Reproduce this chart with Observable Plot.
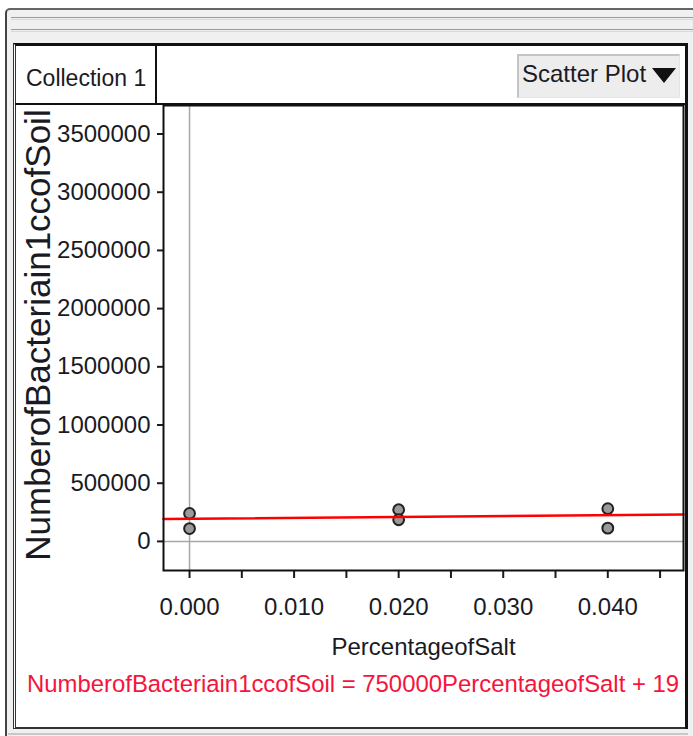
<!DOCTYPE html>
<html>
<head>
<meta charset="utf-8">
<script src="https://cdn.jsdelivr.net/npm/d3@7"></script>
<script src="https://cdn.jsdelivr.net/npm/@observablehq/plot@0.6"></script>
<style>
  html, body { margin: 0; padding: 0; background: #fff; }
  #wrap { position: relative; width: 693px; height: 736px; overflow: hidden; font-family: "Liberation Sans", Arial, sans-serif; }
  .abs { position: absolute; box-sizing: border-box; }
  #chart { position: absolute; left: 0; top: 0; z-index: 1; }
  .txt { white-space: nowrap; color: #1a1a24; }
</style>
</head>
<body>
<div id="wrap">
  <!-- window chrome -->
  <div class="abs" style="left:5px;top:8px;width:700px;height:730px;background:#f0f0f0;border-left:2px solid #444;border-top:2px solid #666;border-top-left-radius:5px;"></div>
  <div class="abs" style="left:11px;top:17px;width:690px;height:3px;border-top:1px solid #9a9a9a;border-bottom:1px solid #d8d8d8;"></div>
  <div class="abs" style="left:11px;top:29px;width:690px;height:3px;border-top:1px solid #9a9a9a;border-bottom:1px solid #d8d8d8;"></div>
  <div class="abs" style="left:8px;top:733px;width:690px;height:2px;background:#c8c8c8;"></div>
  <!-- panel -->
  <div class="abs" style="left:13px;top:43px;width:676px;height:686px;background:#fff;border-top:3px solid #111;border-left:3px double #333;border-bottom:2px solid #333;"></div>
  <!-- tab -->
  <div class="abs" style="left:15px;top:46px;width:142px;height:59px;border-right:2px solid #111;border-bottom:2px solid #111;"></div>
  <div class="abs" style="left:15px;top:103px;width:672px;height:2px;background:#111;"></div>
  <div class="abs txt" style="left:26px;top:67px;font-size:23px;line-height:23px;">Collection 1</div>
  <!-- button -->
  <div class="abs" style="left:517px;top:54px;width:163px;height:44px;background:#ededed;border-top:2px solid #c4c4c4;border-left:2px solid #c4c4c4;border-right:1px solid #e4e4e4;border-bottom:1px solid #e4e4e4;"></div>
  <div class="abs txt" style="left:522px;top:62px;font-size:24px;line-height:24px;">Scatter Plot</div>
  <div class="abs" style="left:652px;top:68px;width:0;height:0;border-left:12px solid transparent;border-right:12px solid transparent;border-top:15px solid #111;"></div>
  <div id="chart"></div>
  <div class="abs txt" id="eq" style="left:27px;top:672px;font-size:23.9px;line-height:24px;color:#f5143c;z-index:2;"></div>
  <!-- right border on top -->
  <div class="abs" style="left:685px;top:43px;width:3px;height:686px;background:#111;z-index:3;"></div>
  <div class="abs" style="left:688px;top:43px;width:5px;height:693px;background:#f0f0f0;z-index:3;"></div>
</div>
<script>
// ---- data ----
const percentageOfSalt = [0, 0, 0.02, 0.02, 0.04, 0.04];
const bacteriaPerCc = [240000, 110000, 272000, 186000, 281000, 114000];
const slope = 750000;
const intercept = 195000;
const interceptShown = "19"; // the reference cuts the intercept off after "19"
const xMajorTicks = [0, 0.01, 0.02, 0.03, 0.04];
const xMinorTicks = [0.005, 0.015, 0.025, 0.035, 0.045];
const yTicks = [0, 500000, 1000000, 1500000, 2000000, 2500000, 3000000, 3500000];
const xDomain = [-0.00249, 0.04724];
const yDomain = [-250000, 3745000];
const xLabel = "PercentageofSalt";
const yLabel = "NumberofBacteriain1ccofSoil";

const points = percentageOfSalt.map((x, i) => ({x, y: bacteriaPerCc[i]}));
const fmtX = d3.format(".3f");
const fmtY = d3.format("d");

const chart = Plot.plot({
  width: 693,
  height: 736,
  marginLeft: 163,
  marginRight: 10,
  marginTop: 105,
  marginBottom: 166,
  style: {fontFamily: "Liberation Sans, Arial, sans-serif", background: "transparent", color: "#1a1a24"},
  x: {domain: xDomain},
  y: {domain: yDomain},
  marks: [
    Plot.ruleX([0], {stroke: "#a8a8a8", strokeWidth: 1.5}),
    Plot.ruleY([0], {stroke: "#a8a8a8", strokeWidth: 1.5}),
    Plot.axisX({ticks: xMajorTicks, tickFormat: fmtX, tickSize: 8, tickPadding: 19, fontSize: 24, strokeWidth: 2, label: null, color: "#1a1a24"}),
    Plot.axisX({ticks: xMinorTicks, tickFormat: () => "", tickSize: 8, strokeWidth: 2, label: null, color: "#1a1a24"}),
    Plot.axisY({ticks: yTicks, tickFormat: fmtY, tickSize: 6, tickPadding: 7, fontSize: 24, strokeWidth: 2, label: null, color: "#1a1a24"}),
    Plot.dot(points, {x: "x", y: "y", r: 5.4, fill: "#9a9a9a", stroke: "#222", strokeWidth: 2}),
    Plot.line(xDomain, {x: d => d, y: d => slope * d + intercept, stroke: "#ff0000", strokeWidth: 2.5}),
    Plot.frame({stroke: "#111", strokeWidth: 2}),
    Plot.text([xLabel], {frameAnchor: "bottom", text: d => d, lineAnchor: "top", dy: 67, fontSize: 24, fill: "#1a1a24"}),
    Plot.text([yLabel], {frameAnchor: "left", text: d => d, rotate: -90, textAnchor: "middle", lineAnchor: "top", dx: -138, dy: -3, fontSize: 35, fill: "#1a1a24"})
  ]
});
document.getElementById("chart").appendChild(chart);
document.getElementById("eq").textContent =
  `${yLabel} = ${slope}${xLabel} + ${interceptShown}`;
</script>
</body>
</html>
